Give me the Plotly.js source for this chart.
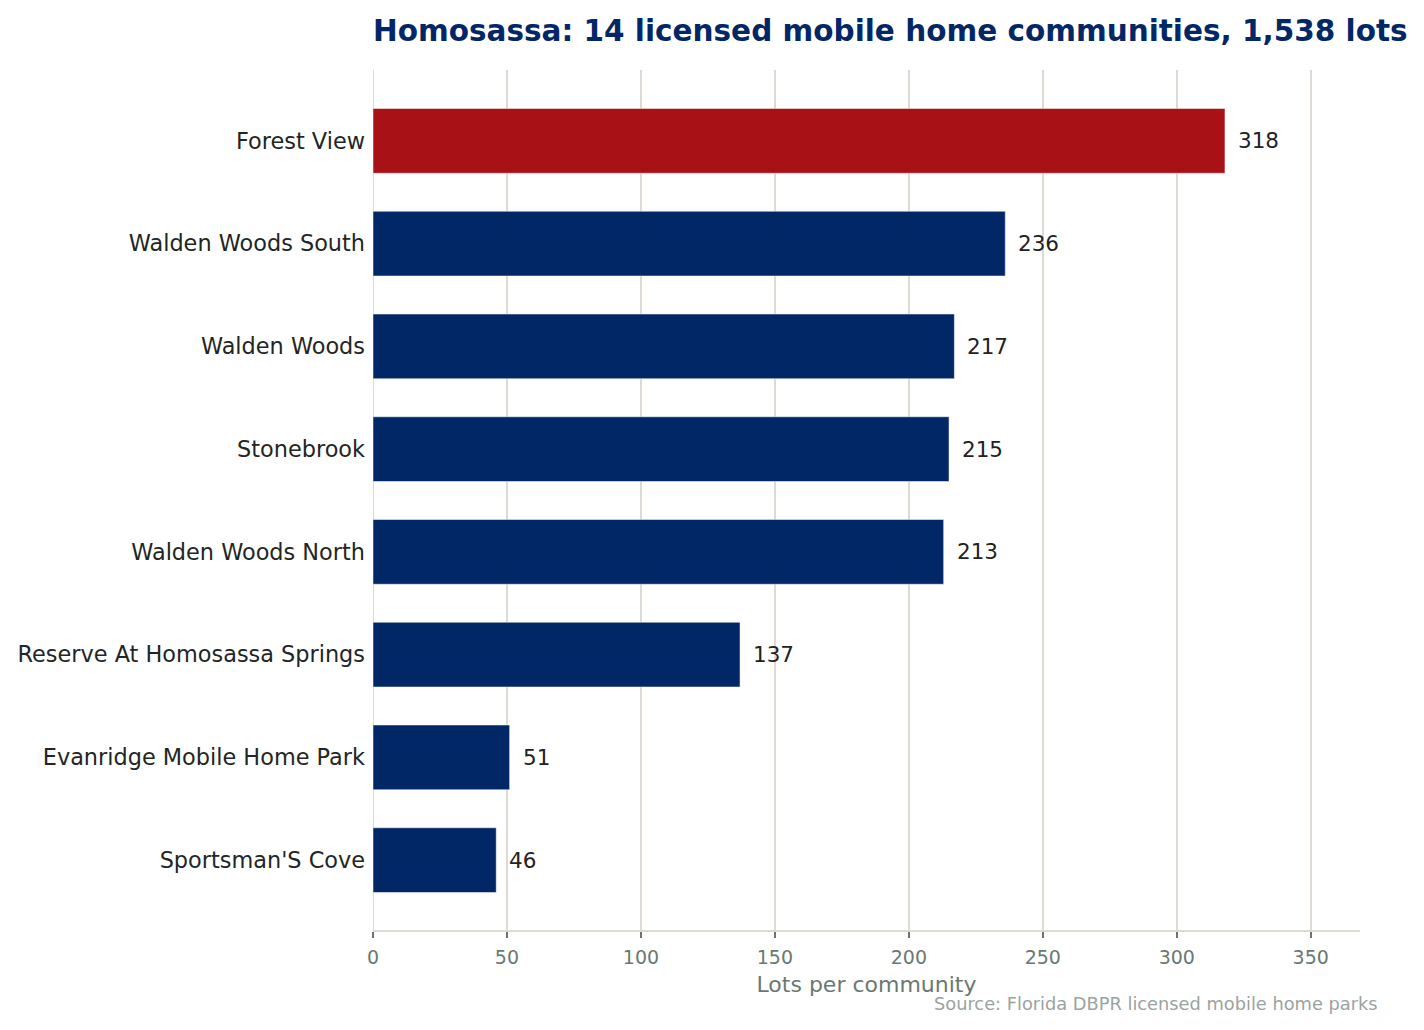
<!DOCTYPE html>
<html>
<head>
<meta charset="utf-8">
<script src="https://cdn.plot.ly/plotly-3.0.1.min.js"></script>
<style>
  html, body { margin: 0; padding: 0; background: #fff; }
  #chart { width: 1424px; height: 1030px; }
</style>
</head>
<body>
<div id="chart"></div>
<script>
// Homosassa mobile home communities, lots per community
const communities = [
    'Forest View',
    'Walden Woods South',
    'Walden Woods',
    'Stonebrook',
    'Walden Woods North',
    'Reserve At Homosassa Springs',
    'Evanridge Mobile Home Park',
    "Sportsman'S Cove"
];
const lots = [318, 236, 217, 215, 213, 137, 51, 46];
const highlight = 'Forest View';
const xTicks = [0, 50, 100, 150, 200, 250, 300, 350];

const NAVY = '#022767';
const RED = '#a81115';
const GRID = '#dedad3';
const FONT = 'DejaVu Sans';

const barColors = communities.map(c => c === highlight ? RED : NAVY);

const trace = {
    type: 'bar',
    orientation: 'h',
    x: lots,
    y: communities,
    width: 0.63,
    marker: { color: barColors, line: { color: '#ffffff', width: 0.5 } },
    hoverinfo: 'x+y'
};

// value labels just past the end of each bar
const valueLabels = lots.map((v, i) => ({
    x: v, y: communities[i], xref: 'x', yref: 'y',
    text: String(v), showarrow: false,
    xanchor: 'left', xshift: 11,
    font: { family: FONT, size: 21.5, color: '#222' }
}));

const layout = {
    width: 1424, height: 1030,
    paper_bgcolor: '#fff', plot_bgcolor: '#fff',
    font: { family: FONT, color: '#1f2624' },
    margin: { l: 373, r: 64, t: 70, b: 100 },
    showlegend: false,
    title: {
        text: '<b>Homosassa: 14 licensed mobile home communities, 1,538 lots</b>',
        font: { family: FONT, size: 29.5, color: NAVY },
        xref: 'paper', x: 0, xanchor: 'left',
        yref: 'container', y: 0.97, yanchor: 'middle'
    },
    xaxis: {
        range: [0, 368.4],
        tickvals: xTicks,
        ticks: 'outside', ticklen: 6, tickwidth: 2, tickcolor: '#6b7872',
        tickfont: { family: FONT, size: 19, color: '#6b7872' },
        ticklabelstandoff: 3,
        showgrid: true, gridcolor: GRID, gridwidth: 2,
        zeroline: true, zerolinecolor: GRID, zerolinewidth: 1,
        showline: true, linecolor: GRID, linewidth: 2,
        title: { text: 'Lots per community', font: { family: FONT, size: 22, color: '#6b7872' }, standoff: 10 },
        fixedrange: true
    },
    yaxis: {
        categoryorder: 'array', categoryarray: communities,
        range: [7.68, -0.69],
        ticks: '', showgrid: false, zeroline: false, showline: false,
        tickfont: { family: FONT, size: 22.4, color: '#1f2624' },
        ticklabelstandoff: 7,
        fixedrange: true
    },
    annotations: valueLabels.concat([{
        text: 'Source: Florida DBPR licensed mobile home parks',
        xref: 'paper', yref: 'paper', x: 1.02, y: -0.086,
        xanchor: 'right', yanchor: 'middle', showarrow: false,
        font: { family: FONT, size: 17.8, color: '#9aa3a0' }
    }])
};

Plotly.newPlot('chart', [trace], layout, { displayModeBar: false, staticPlot: true });
</script>
</body>
</html>
